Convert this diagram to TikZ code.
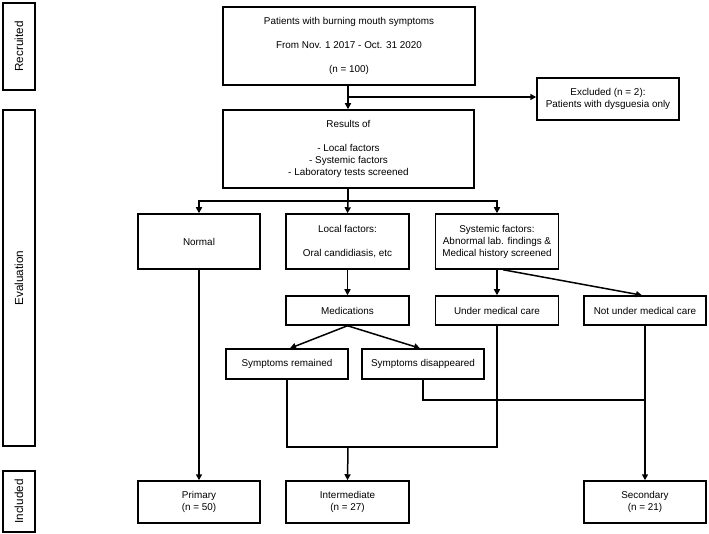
\documentclass[tikz,border=0pt]{standalone}
\usepackage{fontspec}
\setmainfont{Liberation Sans}
\usetikzlibrary{arrows.meta}
\usetikzlibrary{positioning}

\begin{document}
\begin{tikzpicture}[x=1pt,y=-1pt,
	box/.style={draw,line width=1.5pt,rectangle,align=center,inner sep=0pt,
		font=\fontsize{9.9}{12}\selectfont},
	side/.style={box,rotate=90,minimum height=32,font=\fontsize{11.7}{14}\selectfont},
	arr/.style={line width=1.5pt,-{Triangle[length=6pt,width=6pt]}},
	ln/.style={line width=1.5pt}]
		\def \colA {199};
		\def \colB {347.5};
		\def \colC {497};
		\def \colD {645};
		\useasboundingbox (0,0) rectangle (709,534);
		% stages
		\node[side,minimum width=87] (recruited) at (19,46.5) {Recruited};
		\node[side,minimum width=336] (evaluation) at (19,278) {Evaluation};
		\node[side,minimum width=61] (included) at (19,501.5) {Included};
		% boxes
		\node[box,minimum width=252,minimum height=78] (recruit) at (349,46)
			{Patients with burning mouth symptoms\\[12pt]From Nov. 1 2017 - Oct. 31 2020\\[12pt](n = 100)};
		\node[box,minimum width=142,minimum height=42] (excl) at (608,99)
			{Excluded (n = 2):\\Patients with dysguesia only};
		\node[box,minimum width=251,minimum height=78] (results) at (348.5,149)
			{Results of\\[12pt]- Local factors\\- Systemic factors\\- Laboratory tests screened};
		\node[box,minimum width=122,minimum height=55] (normal) at (\colA,241.5) {Normal};
		\node[box,minimum width=123,minimum height=55] (local) at (\colB,241.5)
			{Local factors:\\[12pt]Oral candidiasis, etc};
		\node[box,minimum width=123,minimum height=55] (systemic) at (\colC,241.5)
			{Systemic factors:\\Abnormal lab. findings \&\\Medical history screened};
		\node[box,minimum width=123,minimum height=29] (meds) at (\colB,310.5) {Medications};
		\node[box,minimum width=123,minimum height=29] (undercare) at (\colC,310.5) {Under medical care};
		\node[box,minimum width=122,minimum height=29] (notcare) at (\colD,310.5) {Not under medical care};
		\node[box,minimum width=122,minimum height=30] (remained) at (287,364) {Symptoms remained};
		\node[box,minimum width=122,minimum height=30] (gone) at (423,364) {Symptoms disappeared};
		\node[box,minimum width=122,minimum height=42] (primary) at (\colA,502) {Primary\\(n = 50)};
		\node[box,minimum width=123,minimum height=42] (interm) at (\colB,502) {Intermediate\\(n = 27)};
		\node[box,minimum width=122,minimum height=42] (secondary) at (\colD,502) {Secondary\\(n = 21)};
		% connectors
		\coordinate (split) at (348,201);
		\coordinate (joinA) at (348,447);
		\coordinate (joinB) at (\colD,400);
		\draw[arr] (recruit.south -| 348,0) -- (results.north -| 348,0);
		\draw[arr] (348,97) -- (excl.west |- 0,97);
		\draw[ln] (results.south -| split) -- (split);
		\draw[arr] (split) -| (normal.north);
		\draw[arr] (split) -- (local.north);
		\draw[arr] (split) -| (systemic.north);
		\draw[arr] (local.south) -- (meds.north);
		\draw[arr] (systemic.south) -- (undercare.north);
		\draw[arr] ([xshift=6pt]systemic.south) -- ([xshift=-3pt]notcare.north);
		\draw[arr] (meds.south) -- ([xshift=3pt]remained.north);
		\draw[arr] (meds.south) -- ([xshift=-3pt]gone.north);
		\draw[arr] (normal.south) -- (primary.north);
		\draw[ln] (remained.south) |- (joinA);
		\draw[ln] (undercare.south) |- (joinA);
		\draw[arr] (joinA) -- (interm.north);
		\draw[ln] (gone.south) |- (joinB);
		\draw[arr] (notcare.south) -- (secondary.north);
\end{tikzpicture}
\end{document}
